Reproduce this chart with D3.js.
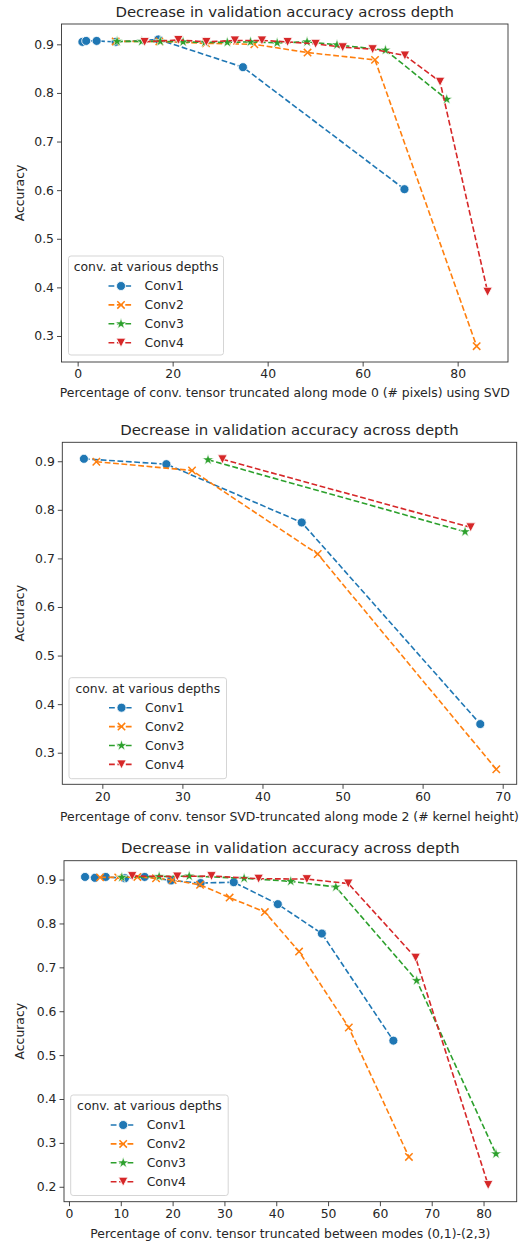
<!DOCTYPE html>
<html><head><meta charset="utf-8">
<script src="https://cdn.jsdelivr.net/npm/d3@7"></script>
<style>
body{margin:0;background:#fff}
svg{display:block}
text{font-family:"DejaVu Sans",sans-serif;fill:#262626}
</style>
</head><body><svg id="c" width="528" height="1245"></svg>
<script>
const seriesNames = ["Conv1","Conv2","Conv3","Conv4"];
const colors = ["#1f77b4","#ff7f0e","#2ca02c","#d62728"];
const markerKinds = ["circle","x","star","tri"];
const chartTitle = "Decrease in validation accuracy across depth";
const yLabel = "Accuracy";
const legendTitle = "conv. at various depths";

// Panel 1
const p1XLabel = "Percentage of conv. tensor truncated along mode 0 (# pixels) using SVD";
const p1XTicks = [0,20,40,60,80];
const p1YTicks = [0.3,0.4,0.5,0.6,0.7,0.8,0.9];
const p1XLim = [-3.4,90.6];
const p1YLim = [0.2465,0.9418];
const p1Conv1 = [[1.0,0.905],[1.8,0.907],[4.0,0.907],[8.0,0.905],[17.0,0.910],[34.8,0.853],[68.8,0.602]];
const p1Conv2 = [[8.0,0.906],[17.2,0.906],[27.0,0.902],[37.2,0.900],[48.4,0.883],[62.6,0.868],[84.0,0.279]];
const p1Conv3 = [[8.3,0.906],[13.5,0.906],[17.4,0.906],[22.2,0.905],[26.8,0.904],[31.5,0.904],[36.4,0.905],[42.0,0.903],[48.3,0.905],[54.6,0.899],[64.8,0.888],[77.7,0.787]];
const p1Conv4 = [[14.1,0.905],[21.2,0.909],[27.1,0.905],[33.1,0.908],[38.8,0.908],[44.2,0.905],[50.1,0.901],[55.8,0.894],[62.1,0.890],[68.9,0.877],[76.3,0.823],[86.3,0.391]];

// Panel 2
const p2XLabel = "Percentage of conv. tensor SVD-truncated along mode 2 (# kernel height)";
const p2XTicks = [20,30,40,50,60,70];
const p2YTicks = [0.3,0.4,0.5,0.6,0.7,0.8,0.9];
const p2XLim = [15.0,71.75];
const p2YLim = [0.235,0.939];
const p2Conv1 = [[17.7,0.905],[28.0,0.894],[44.9,0.774],[67.2,0.359]];
const p2Conv2 = [[19.25,0.899],[31.2,0.881],[46.9,0.709],[69.2,0.266]];
const p2Conv3 = [[33.2,0.903],[65.3,0.755]];
const p2Conv4 = [[35.0,0.904],[66.0,0.764]];

// Panel 3
const p3XLabel = "Percentage of conv. tensor truncated between modes (0,1)-(2,3)";
const p3XTicks = [0,10,20,30,40,50,60,70,80];
const p3YTicks = [0.2,0.3,0.4,0.5,0.6,0.7,0.8,0.9];
const p3XLim = [-0.96,86.4];
const p3YLim = [0.166,0.943];
const p3Conv1 = [[3.1,0.906],[5.0,0.904],[7.1,0.906],[10.8,0.903],[14.6,0.906],[19.7,0.898],[25.4,0.892],[31.8,0.894],[40.3,0.844],[48.8,0.777],[62.6,0.533]];
const p3Conv2 = [[6.0,0.905],[9.5,0.905],[13.2,0.906],[16.8,0.903],[20.0,0.899],[25.3,0.888],[31.0,0.859],[37.8,0.826],[44.4,0.736],[54.0,0.563],[65.6,0.268]];
const p3Conv3 = [[10.2,0.905],[17.4,0.907],[23.2,0.908],[33.8,0.903],[42.8,0.896],[51.5,0.883],[67.1,0.670],[82.4,0.275]];
const p3Conv4 = [[12.2,0.908],[20.9,0.907],[27.5,0.908],[36.6,0.902],[45.9,0.901],[53.9,0.891],[66.9,0.722],[80.9,0.204]];

const panels = [
  {box:{l:61.5,r:508,t:24,b:362}, xlim:p1XLim, ylim:p1YLim, xticks:p1XTicks, yticks:p1YTicks, xlabel:p1XLabel,
   series:[p1Conv1,p1Conv2,p1Conv3,p1Conv4], titleY:12, xlabelY:393, legend:{x:68.5,y:256,w:155,h:99}},
  {box:{l:62.3,r:516.7,t:442.3,b:784.3}, xlim:p2XLim, ylim:p2YLim, xticks:p2XTicks, yticks:p2YTicks, xlabel:p2XLabel,
   series:[p2Conv1,p2Conv2,p2Conv3,p2Conv4], titleY:429.5, xlabelY:816.5, legend:{x:69,y:677.7,w:157.5,h:101}},
  {box:{l:64,r:516.7,t:860.7,b:1201.7}, xlim:p3XLim, ylim:p3YLim, xticks:p3XTicks, yticks:p3YTicks, xlabel:p3XLabel,
   series:[p3Conv1,p3Conv2,p3Conv3,p3Conv4], titleY:847.5, xlabelY:1233.5, legend:{x:70.7,y:1095,w:157.5,h:100.5}}
];

const svg = d3.select("#c");
const FS = 12.4;
const TFS = 14.9;

function drawMarker(g, kind, color, x, y){
  if(kind==="circle"){
    g.append("circle").attr("cx",x).attr("cy",y).attr("r",4.5)
      .attr("fill",color).attr("stroke","#fff").attr("stroke-width",0.8);
  } else if(kind==="x"){
    const s=3.7;
    g.append("path").attr("d",`M${x-s},${y-s}L${x+s},${y+s}M${x-s},${y+s}L${x+s},${y-s}`)
      .attr("stroke",color).attr("stroke-width",1.5).attr("fill","none");
  } else if(kind==="star"){
    g.append("path").attr("transform",`translate(${x},${y})`)
      .attr("d",d3.symbol(d3.symbolStar,38)())
      .attr("fill",color).attr("stroke","#fff").attr("stroke-width",0.6);
  } else {
    const s=4.7;
    g.append("path").attr("d",`M${x-s},${y-s*0.95}L${x+s},${y-s*0.95}L${x},${y+s*0.95}Z`)
      .attr("fill",color).attr("stroke","#fff").attr("stroke-width",0.8);
  }
}

panels.forEach(p=>{
  const b=p.box;
  const x=d3.scaleLinear().domain(p.xlim).range([b.l,b.r]);
  const y=d3.scaleLinear().domain(p.ylim).range([b.b,b.t]);
  const g=svg.append("g");

  const ax=g.append("g").attr("transform",`translate(0,${b.b})`)
    .call(d3.axisBottom(x).tickValues(p.xticks).tickSize(4.5).tickPadding(3).tickFormat(d3.format("d")));
  const ay=g.append("g").attr("transform",`translate(${b.l},0)`)
    .call(d3.axisLeft(y).tickValues(p.yticks).tickSize(4.5).tickPadding(3).tickFormat(d3.format(".1f")));
  [ax,ay].forEach(a=>{
    a.select(".domain").remove();
    a.selectAll(".tick line").attr("stroke","#333").attr("stroke-width",0.9);
    a.selectAll(".tick text").attr("font-size",FS).attr("font-family","DejaVu Sans, sans-serif").attr("fill","#262626");
  });

  const line=d3.line().x(d=>x(d[0])).y(d=>y(d[1]));
  p.series.forEach((s,i)=>{
    const sg=g.append("g");
    sg.append("path").attr("d",line(s)).attr("fill","none").attr("stroke",colors[i])
      .attr("stroke-width",1.6).attr("stroke-dasharray","5.8,2.6");
    s.forEach(d=>drawMarker(sg,markerKinds[i],colors[i],x(d[0]),y(d[1])));
  });

  g.append("rect").attr("x",b.l).attr("y",b.t).attr("width",b.r-b.l).attr("height",b.b-b.t)
    .attr("fill","none").attr("stroke","#333").attr("stroke-width",0.9);

  g.append("text").attr("x",(b.l+b.r)/2).attr("y",p.titleY).attr("dy","0.35em")
    .attr("text-anchor","middle").attr("font-size",TFS).text(chartTitle);
  g.append("text").attr("x",(b.l+b.r)/2).attr("y",p.xlabelY).attr("dy","0.35em")
    .attr("text-anchor","middle").attr("font-size",FS).text(p.xlabel);
  g.append("text").attr("transform",`translate(20,${(b.t+b.b)/2}) rotate(-90)`).attr("dy","0.35em")
    .attr("text-anchor","middle").attr("font-size",FS).text(yLabel);

  const L=p.legend;
  const lg=g.append("g");
  lg.append("rect").attr("x",L.x).attr("y",L.y).attr("width",L.w).attr("height",L.h).attr("rx",2.5)
    .attr("fill","#fff").attr("fill-opacity",0.8).attr("stroke","#d0d0d0").attr("stroke-width",0.9);
  lg.append("text").attr("x",L.x+L.w/2).attr("y",L.y+11).attr("dy","0.35em").attr("text-anchor","middle")
    .attr("font-size",FS).text(legendTitle);
  seriesNames.forEach((n,i)=>{
    const yy=L.y+30+i*18.9;
    const x1=L.x+40, x2=L.x+65;
    lg.append("line").attr("x1",x1).attr("x2",x2).attr("y1",yy).attr("y2",yy)
      .attr("stroke",colors[i]).attr("stroke-width",1.6).attr("stroke-dasharray","5.8,2.6");
    drawMarker(lg,markerKinds[i],colors[i],(x1+x2)/2,yy);
    lg.append("text").attr("x",L.x+76).attr("y",yy).attr("dy","0.35em").attr("font-size",FS).text(n);
  });
});
</script></body></html>
